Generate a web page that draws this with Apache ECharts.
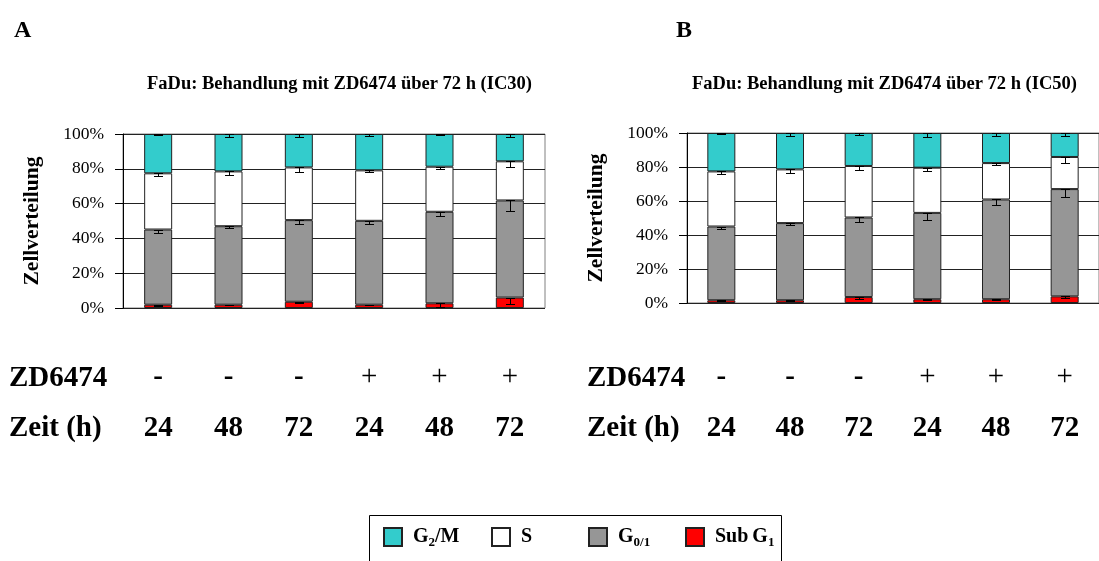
<!DOCTYPE html>
<html>
<head>
<meta charset="utf-8">
<script src="https://cdn.jsdelivr.net/npm/echarts@6/dist/echarts.min.js"></script>
<style>
  html, body { margin: 0; padding: 0; background: #fff; }
  #chart { width: 1099px; height: 561px; }
</style>
</head>
<body>
<div id="chart"></div>
<script>
// Treatment rows under each panel
const drugRow = ['-', '-', '-', '+', '+', '+'];
const timeRow = ['24', '48', '72', '24', '48', '72'];
const yTicks = [0, 20, 40, 60, 80, 100];

// Phase names (stack order bottom to top) and legend order
const phaseNames = ['Sub G1', 'G0/1', 'S', 'G2/M'];
const legendOrder = ['G2/M', 'S', 'G0/1', 'Sub G1'];
const phaseColors = ['#ff0000', '#969696', '#ffffff', '#33cccc'];

// Panel A (IC30): percentage of cells per phase
const subG1A = [1.9, 1.9, 3.6, 1.9, 2.7, 6.0];
const g01A   = [43.2, 45.1, 46.9, 48.2, 52.6, 55.8];
const sA     = [32.3, 31.5, 30.3, 29.0, 25.9, 22.5];
const g2mA   = [22.6, 21.5, 19.2, 20.9, 18.8, 15.7];
// Panel A standard deviations
const errSubA = [0.5, 0.4, 1.0, 0.4, 2.1, 3.8];
const errG01A = [1.9, 1.2, 2.5, 1.9, 2.7, 6.1];
const errSA   = [1.3, 1.9, 2.9, 1.2, 1.5, 3.3];
const errG2mA = [0.6, 1.9, 1.5, 1.2, 0.4, 1.9];

// Panel B (IC50): percentage of cells per phase
const subG1B = [1.6, 1.6, 3.5, 2.2, 2.2, 3.9];
const g01B   = [43.4, 45.4, 46.8, 50.8, 58.7, 63.1];
const sB     = [32.4, 31.6, 30.3, 26.6, 21.4, 18.9];
const g2mB   = [22.6, 21.4, 19.4, 20.4, 17.7, 14.1];
// Panel B standard deviations
const errSubB = [0.4, 0.4, 1.0, 0.6, 0.4, 1.2];
const errG01B = [1.6, 1.2, 2.4, 4.1, 3.3, 4.7];
const errSB   = [1.4, 2.2, 2.2, 1.8, 1.2, 3.5];
const errG2mB = [0.6, 1.8, 1.4, 2.6, 1.8, 1.6];

const SERIF = 'Liberation Serif';
const categories = timeRow.map((t, i) => i);

// Downward standard-deviation whisker from the top of a stacked segment
function errorBarRenderer(params, api) {
  const x = api.value(0), top = api.value(1), err = api.value(2);
  const p1 = api.coord([x, top]);
  const p2 = api.coord([x, top - err]);
  const cx = Math.round(p1[0]) + 0.5;
  const y1 = Math.round(p1[1]) + 0.5, y2 = Math.round(p2[1]) + 0.5;
  const hw = 4.5;
  const st = { stroke: '#000', lineWidth: 1 };
  return {
    type: 'group',
    children: [
      { type: 'line', shape: { x1: cx, y1: y1, x2: cx, y2: y2 }, style: st },
      { type: 'line', shape: { x1: cx - hw, y1: y1, x2: cx + hw, y2: y1 }, style: st },
      { type: 'line', shape: { x1: cx - hw, y1: y2, x2: cx + hw, y2: y2 }, style: st }
    ]
  };
}

function panelSeries(axisIdx, values, errors) {
  const out = [];
  const cum = values[0].map(() => 0);
  values.forEach((vals, k) => {
    out.push({
      name: phaseNames[k],
      type: 'bar',
      stack: 'p' + axisIdx,
      xAxisIndex: axisIdx,
      yAxisIndex: axisIdx,
      barWidth: 28,
      data: vals,
      itemStyle: { color: phaseColors[k], borderColor: '#222', borderWidth: 1 },
      emphasis: { disabled: true },
      animation: false
    });
    const bars = vals.map((v, i) => {
      cum[i] += v;
      return [i, cum[i], errors[k][i]];
    });
    out.push({
      type: 'custom',
      xAxisIndex: axisIdx,
      yAxisIndex: axisIdx,
      renderItem: errorBarRenderer,
      data: bars,
      z: 5,
      silent: true,
      animation: false
    });
  });
  return out;
}

function xAxisFor(idx, margin) {
  return {
    type: 'category',
    gridIndex: idx,
    data: categories,
    axisLine: { show: false },
    axisTick: { show: false },
    axisLabel: {
      margin: margin,
      interval: 0,
      formatter: (v, i) => (drugRow[i] === '-' ? '{m|-}' : '{p|+}') + '\n{t|' + timeRow[i] + '}',
      rich: {
        m: { fontFamily: SERIF, fontSize: 29, fontWeight: 'bold', color: '#000', lineHeight: 51 },
        p: { fontFamily: SERIF, fontSize: 29, fontWeight: 'normal', color: '#000', lineHeight: 51 },
        t: { fontFamily: SERIF, fontSize: 29, fontWeight: 'bold', color: '#000', lineHeight: 51 }
      }
    }
  };
}

function yAxisFor(idx) {
  return {
    type: 'value',
    gridIndex: idx,
    min: yTicks[0], max: yTicks[yTicks.length - 1], interval: yTicks[1] - yTicks[0],
    name: 'Zellverteilung',
    nameLocation: 'middle',
    nameRotate: 90,
    nameGap: 80,
    nameTextStyle: { fontFamily: SERIF, fontSize: 21.5, fontWeight: 'bold', color: '#000' },
    axisLine: { show: true, lineStyle: { color: '#000', width: 1 } },
    axisTick: { show: true, inside: false, length: 8, lineStyle: { color: '#000' } },
    axisLabel: { fontFamily: SERIF, fontSize: 17.5, color: '#000', margin: 19, formatter: '{value}%' },
    splitLine: { show: true, lineStyle: { color: '#222', width: 1 } }
  };
}

const legendLabels = {
  'G2/M': '{n|G}{s|2}{n|/M}',
  'S': '{n|S}',
  'G0/1': '{n|G}{s|0/1}',
  'Sub G1': '{n|Sub\u2009G}{s|1}'
};

// Legend entries sit on a fixed pitch inside one framed box
const legendSlots = [383, 491, 588, 685];
const legends = legendOrder.map((name, i) => ({
  data: [name],
  left: legendSlots[i],
  top: 527,
  padding: 0,
  icon: 'rect',
  itemWidth: 18,
  itemHeight: 18,
  selectedMode: false,
  formatter: n => legendLabels[n],
  textStyle: {
    fontFamily: SERIF, fontSize: 20, fontWeight: 'bold', color: '#000',
    padding: [0, 0, 0, 6],
    rich: {
      n: { fontFamily: SERIF, fontSize: 20, fontWeight: 'bold', color: '#000' },
      s: { fontFamily: SERIF, fontSize: 13, fontWeight: 'bold', color: '#000', padding: [12, 0, 0, 0] }
    }
  }
}));

const chart = echarts.init(document.getElementById('chart'), null, { renderer: 'canvas' });
chart.setOption({
  backgroundColor: '#fff',
  animation: false,
  title: [
    { text: 'A', left: 9, top: 14, textStyle: { fontFamily: SERIF, fontSize: 24, fontWeight: 'bold', color: '#000' } },
    { text: 'B', left: 671, top: 14, textStyle: { fontFamily: SERIF, fontSize: 24, fontWeight: 'bold', color: '#000' } },
    { text: 'FaDu: Behandlung mit ZD6474 über 72 h (IC30)', left: 147, top: 75, padding: 0, textStyle: { fontFamily: SERIF, fontSize: 18.5, fontWeight: 'bold', color: '#000' } },
    { text: 'FaDu: Behandlung mit ZD6474 über 72 h (IC50)', left: 692, top: 75, padding: 0, textStyle: { fontFamily: SERIF, fontSize: 18.5, fontWeight: 'bold', color: '#000' } }
  ],
  legend: legends,
  grid: [
    { left: 123, top: 134, width: 422, height: 174, show: true, borderColor: '#808080', borderWidth: 1 },
    { left: 687, top: 133, right: -3, height: 170, show: true, borderColor: '#808080', borderWidth: 1 }
  ],
  xAxis: [xAxisFor(0, 44), xAxisFor(1, 49)],
  yAxis: [yAxisFor(0), yAxisFor(1)],
  graphic: [
    { type: 'text', left: 9, top: 364, style: { text: 'ZD6474', font: 'bold 29px "Liberation Serif"', fill: '#000' } },
    { type: 'text', left: 9, top: 414, style: { text: 'Zeit (h)', font: 'bold 29px "Liberation Serif"', fill: '#000' } },
    { type: 'text', left: 587, top: 364, style: { text: 'ZD6474', font: 'bold 29px "Liberation Serif"', fill: '#000' } },
    { type: 'text', left: 587, top: 414, style: { text: 'Zeit (h)', font: 'bold 29px "Liberation Serif"', fill: '#000' } },
    // legend frame, open at the bottom edge of the page
    { type: 'rect', shape: { x: 369.5, y: 515.5, width: 412, height: 60 }, style: { fill: 'none', stroke: '#000', lineWidth: 1 }, z: 0 }
  ],
  series: [
    ...panelSeries(0, [subG1A, g01A, sA, g2mA], [errSubA, errG01A, errSA, errG2mA]),
    ...panelSeries(1, [subG1B, g01B, sB, g2mB], [errSubB, errG01B, errSB, errG2mB])
  ]
});
</script>
</body>
</html>
